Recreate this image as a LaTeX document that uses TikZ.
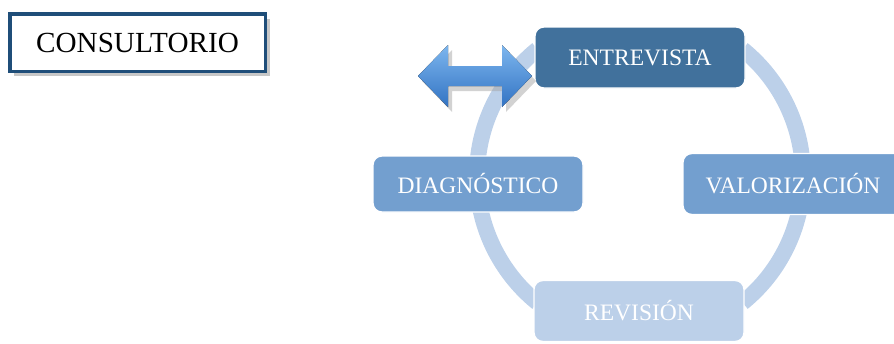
\documentclass[tikz,border=0pt]{standalone}
\usepackage{fontspec}
\setmainfont{Liberation Serif}
\usetikzlibrary{positioning, shadows}
\definecolor{consultborde}{RGB}{31,78,121}
\definecolor{entrevistacolor}{RGB}{65,113,156}
\definecolor{mediocolor}{RGB}{115,159,207}
\definecolor{clarocolor}{RGB}{188,208,233}
\definecolor{flechamedio}{RGB}{74,144,217}
\definecolor{flechaclaro}{RGB}{125,182,238}
\definecolor{flechaoscuro}{RGB}{50,115,195}

\begin{document}
\begin{tikzpicture}[
    etapa/.style={rectangle, rounded corners=5pt, minimum width=4.2cm, minimum height=1.22cm, draw=white, line width=0.8pt, text=white, inner sep=0pt, font=\fontsize{13.4}{16}\selectfont},
    anillo/.style={line width=0.32cm, clarocolor}
]
    \useasboundingbox (0,0) rectangle (17.88,6.86);

    % === CONSULTORIO ===
    \node[rectangle, draw=consultborde, line width=0.07cm, fill=white, minimum width=5.11cm, minimum height=1.15cm,
        font=\fontsize{16.6}{20}\selectfont,
        drop shadow={shadow xshift=0.09cm, shadow yshift=-0.1cm, fill=black!40, opacity=0.55}] (consultorio) at (2.75, 6.01) {CONSULTORIO};

    % === ANILLO (cuatro tramos) ===
    \coordinate (centro) at (12.8, 3.34);
    \foreach \desde/\hasta in {51/7, -13/-51, 231/192, 174/129}
        \draw[anillo] ([shift={(\desde:3.26)}]centro) arc[start angle=\desde, end angle=\hasta, radius=3.26];

    % === ETAPAS ===
    \node[etapa, fill=entrevistacolor] (entrevista) at (12.8, 5.71) {ENTREVISTA};
    \node[etapa, fill=mediocolor, minimum height=1.12cm] (diagnostico) at (9.56, 3.18) {DIAGNÓSTICO};
    \node[etapa, fill=mediocolor, minimum width=4.4cm] (valorizacion) at (15.86, 3.18) {VALORIZACIÓN};
    \node[etapa, fill=clarocolor] (revision) at (12.78, 0.64) {REVISIÓN};

    % === FLECHA DOBLE ===
    \fill[top color=flechaclaro, middle color=flechamedio, bottom color=flechaoscuro,
        drop shadow={shadow xshift=0.08cm, shadow yshift=-0.1cm, fill=black!35, opacity=0.5}]
        (8.36, 5.34) -- (8.96, 5.96) -- (8.96, 5.54) -- (10.04, 5.54) -- (10.04, 5.96) -- (10.64, 5.34)
        -- (10.04, 4.72) -- (10.04, 5.14) -- (8.96, 5.14) -- (8.96, 4.72) -- cycle;

\end{tikzpicture}
\end{document}
